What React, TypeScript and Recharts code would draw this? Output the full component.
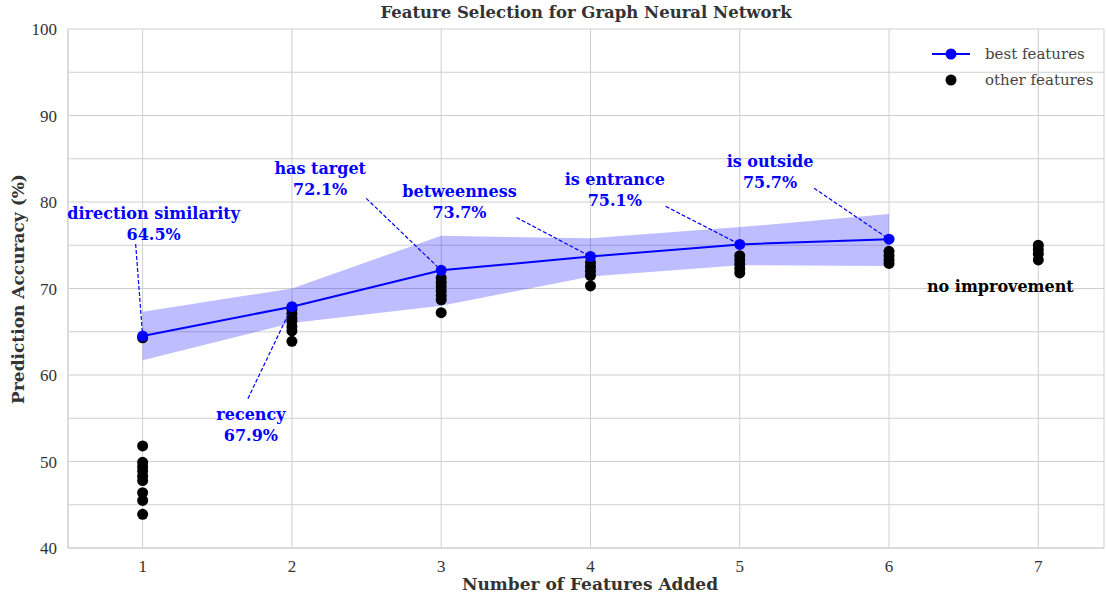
import React from "react";
import {
  ComposedChart,
  Area,
  Line,
  Scatter,
  XAxis,
  YAxis,
  CartesianGrid,
  LabelList,
  ReferenceDot,
} from "recharts";

// best feature at each step
const steps = [1, 2, 3, 4, 5, 6];
const bestAccuracy = [64.5, 67.9, 72.1, 73.7, 75.1, 75.7];
const bandLow = [61.7, 66.0, 68.0, 71.4, 72.7, 72.6];
const bandHigh = [67.3, 70.0, 76.1, 75.8, 77.1, 78.6];
const bestNames = [
  "direction similarity",
  "recency",
  "has target",
  "betweenness",
  "is entrance",
  "is outside",
];

// all candidate features tried at each step
const otherStep1 = [64.3, 51.8, 49.9, 49.4, 48.9, 48.3, 47.8, 46.4, 45.5, 43.9];
const otherStep2 = [67.6, 67.1, 66.6, 66.2, 65.6, 65.1, 63.9];
const otherStep3 = [71.2, 70.7, 70.2, 69.7, 69.2, 68.7, 67.2];
const otherStep4 = [73.0, 72.5, 72.0, 71.5, 70.3];
const otherStep5 = [73.8, 73.3, 72.8, 72.3, 71.8];
const otherStep6 = [74.3, 73.8, 73.3, 72.9];
const otherStep7 = [75.0, 74.5, 74.0, 73.3];
const otherSteps = [otherStep1, otherStep2, otherStep3, otherStep4, otherStep5, otherStep6, otherStep7];

const xTicks = [1, 2, 3, 4, 5, 6, 7];
const yTicks = [40, 45, 50, 55, 60, 65, 70, 75, 80, 85, 90, 95, 100];

// pixel offsets of the annotation text / leader line start, relative to each point
const annotOffsets = [
  { tx: 11, ty: -123, lx: -7, ly: -92 },
  { tx: -41, ty: 108, lx: -44, ly: 92 },
  { tx: -121, ty: -102, lx: -75, ly: -72 },
  { tx: -131, ty: -65, lx: -74, ly: -39 },
  { tx: -125, ty: -65, lx: -74, ly: -38 },
  { tx: -119, ty: -78, lx: -75, ly: -51 },
];

const bestData = steps.map((s, i) => ({
  step: s,
  best: bestAccuracy[i],
  band: [bandLow[i], bandHigh[i]],
}));

const otherData = otherSteps.flatMap((vals, i) =>
  vals.map((v) => ({ step: i + 1, acc: v }))
);

const SERIF = "'DejaVu Serif', serif";
const TICK_FONT = "'Liberation Serif', serif";
const BLUE = "#0000ff";
const GRID = "#cfcfcf";

function Annotation(props: any) {
  const { x, y, value } = props;
  const i = Number(value) - 1;
  const o = annotOffsets[i];
  if (!o) return null;
  return (
    <g>
      <line
        x1={x + o.lx}
        y1={y + o.ly}
        x2={x}
        y2={y}
        stroke={BLUE}
        strokeWidth={1.2}
        strokeDasharray="4 2"
      />
      <text
        x={x + o.tx}
        y={y + o.ty}
        textAnchor="middle"
        dominantBaseline="central"
        fill={BLUE}
        fontFamily={SERIF}
        fontWeight="bold"
        fontSize={16}
      >
        {bestNames[i]}
      </text>
      <text
        x={x + o.tx}
        y={y + o.ty + 21}
        textAnchor="middle"
        dominantBaseline="central"
        fill={BLUE}
        fontFamily={SERIF}
        fontWeight="bold"
        fontSize={16}
      >
        {bestAccuracy[i].toFixed(1) + "%"}
      </text>
    </g>
  );
}

function LegendBox() {
  const row: React.CSSProperties = { display: "flex", alignItems: "center", height: 26 };
  const txt: React.CSSProperties = { fontFamily: SERIF, fontSize: 15, color: "#444", marginLeft: 14 };
  return (
    <div style={{ position: "absolute", left: 931, top: 41 }}>
      <div style={row}>
        <svg width={40} height={12}>
          <line x1={1} y1={6} x2={39} y2={6} stroke={BLUE} strokeWidth={2} />
          <circle cx={20} cy={6} r={5.5} fill={BLUE} />
        </svg>
        <span style={txt}>best features</span>
      </div>
      <div style={row}>
        <svg width={40} height={12}>
          <circle cx={20} cy={6} r={5.5} fill="#000" />
        </svg>
        <span style={txt}>other features</span>
      </div>
    </div>
  );
}

const titleStyle: React.CSSProperties = {
  position: "absolute",
  fontFamily: SERIF,
  fontWeight: "bold",
  color: "#333",
  whiteSpace: "nowrap",
};

export default function App() {
  return (
    <div style={{ position: "absolute", left: 0, top: 0, width: 1106, height: 597, background: "#fff" }}>
      <ComposedChart
        width={1106}
        height={597}
        margin={{ top: 29, right: 2, bottom: 0, left: 0 }}
      >
        <CartesianGrid stroke={GRID} strokeWidth={1} />
        <XAxis
          type="number"
          dataKey="step"
          domain={[0.5, 7.44]}
          ticks={xTicks}
          allowDataOverflow
          height={49}
          tickLine={false}
          axisLine={{ stroke: GRID }}
          tickMargin={6}
          tick={{ fill: "#333", fontSize: 17, fontFamily: TICK_FONT }}
        />
        <YAxis
          type="number"
          domain={[40, 100]}
          ticks={yTicks}
          allowDataOverflow
          width={68}
          tickLine={false}
          axisLine={{ stroke: GRID }}
          tickMargin={5}
          tickFormatter={(v: number) => (v % 10 === 0 ? String(v) : "")}
          tick={{ fill: "#333", fontSize: 17, fontFamily: TICK_FONT }}
        />
        <YAxis
          yAxisId="frame"
          orientation="right"
          width={0}
          tick={false}
          tickLine={false}
          axisLine={{ stroke: GRID }}
        />
        <Area
          data={bestData}
          dataKey="band"
          type="linear"
          stroke="none"
          fill={BLUE}
          fillOpacity={0.26}
          dot={false}
          activeDot={false}
          isAnimationActive={false}
        />
        <Scatter
          data={otherData}
          dataKey="acc"
          fill="#000"
          isAnimationActive={false}
          shape={(p: any) => <circle cx={p.cx} cy={p.cy} r={5.5} fill="#000" />}
        />
        <Line
          data={bestData}
          dataKey="best"
          type="linear"
          stroke={BLUE}
          strokeWidth={2}
          dot={{ r: 5.5, fill: BLUE, stroke: "none" }}
          activeDot={false}
          isAnimationActive={false}
        >
          <LabelList dataKey="step" content={(p: any) => <Annotation {...p} />} />
        </Line>
        <ReferenceDot
          x={7}
          y={70}
          r={0}
          stroke="none"
          label={{
            value: "no improvement",
            dx: -38,
            dy: -2,
            fill: "#000",
            fontFamily: SERIF,
            fontWeight: "bold",
            fontSize: 16,
          }}
        />
      </ComposedChart>
      <div style={{ ...titleStyle, left: 68, width: 1036, top: 3, textAlign: "center", fontSize: 16.5, lineHeight: "20px" }}>
        Feature Selection for Graph Neural Network
      </div>
      <div
        style={{
          ...titleStyle,
          left: 18,
          top: 289,
          transform: "translate(-50%, -50%) rotate(-90deg)",
          fontSize: 17,
          lineHeight: "20px",
        }}
      >
        Prediction Accuracy (%)
      </div>
      <div style={{ ...titleStyle, left: 72, width: 1036, top: 575, textAlign: "center", fontSize: 17, lineHeight: "18px" }}>
        Number of Features Added
      </div>
      <LegendBox />
    </div>
  );
}
